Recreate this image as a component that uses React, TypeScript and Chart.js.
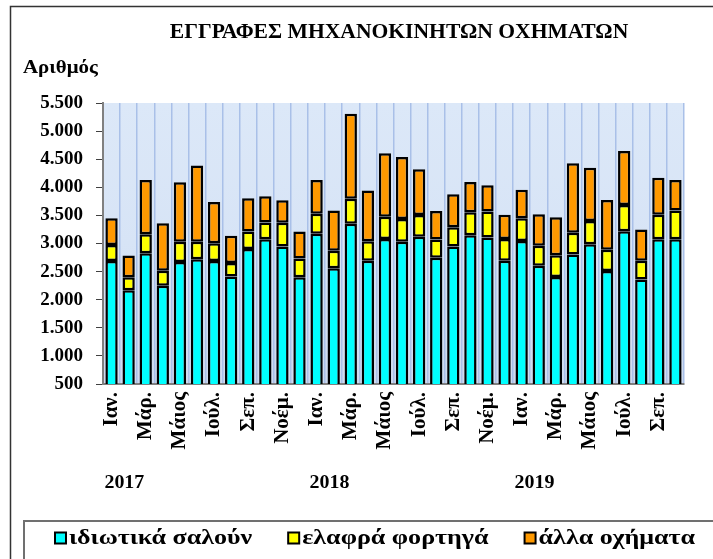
import React, { useEffect, useRef } from "react";
import { Chart, registerables } from "chart.js";

Chart.register(...registerables);

const TITLE = "ΕΓΓΡΑΦΕΣ ΜΗΧΑΝΟΚΙΝΗΤΩΝ ΟΧΗΜΑΤΩΝ";
const Y_TITLE = "Αριθμός";

const months = [
  "Ιαν.", "Φεβ.", "Μάρ.", "Απρ.", "Μάιος", "Ιούν.", "Ιούλ.", "Αύγ.", "Σεπ.", "Οκτ.", "Νοέμ.", "Δεκ.",
  "Ιαν.", "Φεβ.", "Μάρ.", "Απρ.", "Μάιος", "Ιούν.", "Ιούλ.", "Αύγ.", "Σεπ.", "Οκτ.", "Νοέμ.", "Δεκ.",
  "Ιαν.", "Φεβ.", "Μάρ.", "Απρ.", "Μάιος", "Ιούν.", "Ιούλ.", "Αύγ.", "Σεπ.", "Οκτ.",
];

const years = ["2017", "2018", "2019"];

const saloons = [
  2690, 2170, 2825, 2250, 2670, 2720, 2690, 2415, 2900, 3075, 2945, 2400,
  3175, 2560, 3350, 2695, 3080, 3030, 3120, 2745, 2945, 3145, 3105, 2695,
  3045, 2605, 2405, 2805, 2985, 2510, 3220, 2360, 3075, 3075,
];

const lightTrucks = [
  285, 230, 340, 265, 360, 310, 315, 240, 315, 300, 425, 335,
  355, 310, 445, 345, 395, 405, 385, 325, 345, 410, 465, 385,
  405, 355, 385, 385, 415, 380, 465, 335, 435, 510,
];

const otherVehicles = [
  475, 385, 965, 845, 1060, 1360, 735, 485, 590, 465, 400, 480,
  600, 715, 1515, 905, 1130, 1105, 815, 510, 585, 540, 465, 430,
  505, 560, 675, 1240, 950, 885, 960, 555, 660, 545,
];

const seriesNames = ["ιδιωτικά σαλούν", "ελαφρά φορτηγά", "άλλα οχήματα"];
const seriesColors = ["#00FFFF", "#FFFF00", "#FF9900"];

const yTicks = { min: 500, max: 5500, step: 500 };

const FONT = "'Liberation Serif', 'Times New Roman', serif";

const fmt = (v: number) => String(v).replace(/\B(?=(\d{3})+(?!\d))/g, ".");

function stretchedText(ctx: CanvasRenderingContext2D, text: string, x: number, y: number, sx: number, align: CanvasTextAlign) {
  ctx.save();
  ctx.translate(x, y);
  ctx.scale(sx, 1);
  ctx.textAlign = align;
  ctx.fillText(text, 0, 0);
  ctx.restore();
}

const decor = {
  id: "decor",
  beforeDraw(chart: any) {
    const { ctx, chartArea: a, width, height } = chart;
    ctx.save();
    ctx.fillStyle = "#ffffff";
    ctx.fillRect(0, 0, width, height);
    const g = ctx.createLinearGradient(0, a.top, 0, a.bottom);
    g.addColorStop(0, "#dce8f8");
    g.addColorStop(0.5, "#d7e4f6");
    g.addColorStop(1, "#cddaef");
    ctx.fillStyle = g;
    ctx.fillRect(a.left, a.top, a.right - a.left, a.bottom - a.top);
    ctx.strokeStyle = "#333333";
    ctx.lineWidth = 1.5;
    ctx.strokeRect(10.5, 6.5, width + 20, height + 20);
    ctx.restore();
  },
  afterDraw(chart: any) {
    const { ctx, scales } = chart;
    ctx.save();
    ctx.fillStyle = "#000";
    ctx.textBaseline = "middle";
    ctx.font = `bold 20px ${FONT}`;
    stretchedText(ctx, TITLE, 399, 33, 1.08, "center");
    ctx.font = `bold 19px ${FONT}`;
    stretchedText(ctx, Y_TITLE, 23, 68, 1.1, "left");
    ctx.font = `bold 19px ${FONT}`;
    years.forEach((y, i) => {
      const x = scales.x.getPixelForValue(i * 12 + 0.75);
      stretchedText(ctx, y, x, 483, 1.05, "center");
    });
    ctx.strokeStyle = "#707070";
    ctx.lineWidth = 2;
    ctx.strokeRect(24, 521, 800, 100);
    ctx.font = `bold 21px ${FONT}`;
    const sx = 1.24;
    let x = 55;
    const cy = 538;
    chart.data.datasets.forEach((ds: any) => {
      ctx.fillStyle = ds.backgroundColor;
      ctx.fillRect(x, cy - 5.5, 11, 11);
      ctx.strokeStyle = "#000";
      ctx.lineWidth = 2;
      ctx.strokeRect(x, cy - 5.5, 11, 11);
      ctx.fillStyle = "#000";
      stretchedText(ctx, ds.label, x + 14, cy + 1, sx, "left");
      x += 14 + ctx.measureText(ds.label).width * sx + 36;
    });
    ctx.restore();
  },
};

export default function App() {
  const ref = useRef<HTMLCanvasElement>(null);

  useEffect(() => {
    document.body.style.margin = "0";
    const canvas = ref.current!;
    const seriesData = [saloons, lightTrucks, otherVehicles];
    const chart = new Chart(canvas, {
      type: "bar",
      data: {
        labels: months,
        datasets: seriesData.map((d, i) => ({
          label: seriesNames[i],
          data: d,
          backgroundColor: seriesColors[i],
          borderColor: "#000000",
          borderWidth: 2.5,
          borderSkipped: false,
          barPercentage: 0.72,
          categoryPercentage: 1,
        })),
      },
      options: {
        animation: false,
        responsive: false,
        devicePixelRatio: 1,
        layout: { padding: { top: 103, right: 29, left: 0, bottom: 0 } },
        plugins: {
          legend: { display: false },
          title: { display: false },
          tooltip: { enabled: false },
        },
        scales: {
          x: {
            stacked: true,
            grid: {
              color: "#a9c0e8",
              lineWidth: 1.5,
              drawTicks: false,
              offset: true,
            },
            border: { display: true, color: "#808080", width: 2 },
            ticks: {
              autoSkip: false,
              maxRotation: 90,
              minRotation: 90,
              padding: 8,
              color: "#000",
              font: { family: FONT, size: 21, weight: "bold" },
              callback: (_v: any, i: number) => (i % 2 === 0 ? months[i] : ""),
            },
            afterFit: (s: any) => {
              s.height = 175;
            },
          },
          y: {
            stacked: true,
            min: yTicks.min,
            max: yTicks.max,
            grid: {
              drawOnChartArea: false,
              drawTicks: true,
              tickLength: 7,
              color: "#404040",
              lineWidth: 1,
            },
            border: { display: true, color: "#808080", width: 2 },
            ticks: {
              stepSize: yTicks.step,
              padding: 13,
              color: "#000",
              font: { family: FONT, size: 19, weight: "bold" },
              callback: (v: any) => fmt(Number(v)),
            },
            afterFit: (s: any) => {
              s.width = 103;
            },
          },
        },
      },
      plugins: [decor],
    } as any);
    return () => chart.destroy();
  }, []);

  return (
    <div style={{ width: 713, height: 559 }}>
      <canvas ref={ref} width={713} height={559} />
    </div>
  );
}
